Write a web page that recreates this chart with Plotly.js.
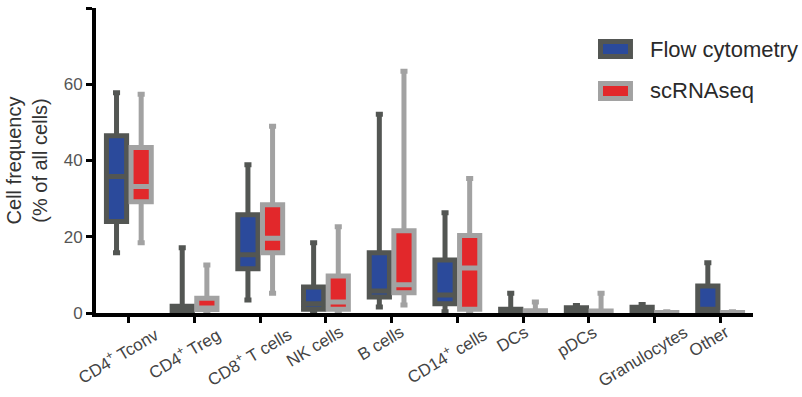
<!DOCTYPE html>
<html><head><meta charset="utf-8">
<script src="https://cdn.plot.ly/plotly-3.0.1.min.js"></script>
<style>html,body{margin:0;padding:0;background:#fff}#chart{width:802px;height:397px}</style>
</head><body><div id="chart"></div>
<script>
const categories = ["CD4<sup>+</sup> Tconv","CD4<sup>+</sup> Treg","CD8<sup>+</sup> T cells","NK cells","B cells","CD14<sup>+</sup> cells","DCs","pDCs","Granulocytes","Other"];

const flowMax = [57.8, 17.1, 38.9, 18.4, 52.1, 26.3, 5.2, 2.0, 2.2, 13.2];
const flowQ3  = [46.5, 1.8, 25.8, 6.8, 15.8, 13.9, 1.0, 1.4, 1.5, 7.1];
const flowMed = [35.8, 0.8, 15.3, 2.4, 5.8, 4.7, 0.4, 0.6, 0.7, 1.0];
const flowQ1  = [24.0, 0.3, 11.6, 1.0, 4.2, 2.4, 0.1, 0.2, 0.3, 0.2];
const flowMin = [15.8, 0, 3.4, 0.2, 1.6, 0.3, 0, 0, 0, 0];

const scMax = [57.4, 12.6, 49.0, 22.6, 63.4, 35.3, 2.9, 5.2, 0.3, 0.3];
const scQ3  = [43.4, 3.9, 28.4, 9.7, 21.6, 20.3, 0.6, 0.5, 0.1, 0.1];
const scMed = [33.2, 1.3, 19.6, 2.9, 7.4, 11.8, 0.2, 0.2, 0.05, 0.05];
const scQ1  = [29.2, 0.9, 15.8, 1.0, 5.3, 1.0, 0.1, 0.1, 0, 0];
const scMin = [18.4, 0, 5.2, 0.3, 2.1, 0.2, 0, 0, 0, 0];

const yTicks = [0, 20, 40, 60, 80];
const yTickText = ["0", "20", "40", "60", ""];

const seriesNames = ["Flow cytometry", "scRNAseq"];
const fillColors = ['#2b4a9b', '#e2282b'];
const lineColors = ['#535653', '#a2a2a2'];

const flow = {
  type: 'box', name: seriesNames[0],
  x: categories, q1: flowQ1, median: flowMed, q3: flowQ3,
  lowerfence: flowMin, upperfence: flowMax,
  fillcolor: fillColors[0], line: {color: lineColors[0], width: 5},
  whiskerwidth: 0.35, boxpoints: false, hoverinfo: 'skip'
};
const sc = {
  type: 'box', name: seriesNames[1],
  x: categories, q1: scQ1, median: scMed, q3: scQ3,
  lowerfence: scMin, upperfence: scMax,
  fillcolor: fillColors[1], line: {color: lineColors[1], width: 5},
  whiskerwidth: 0.35, boxpoints: false, hoverinfo: 'skip'
};

const FONT = 'Liberation Sans, Arial, sans-serif';

// category labels under the axis, centred below each tick and rotated
const catLabels = categories.map(c => ({
  x: c, xref: 'x', y: 0, yref: 'paper',
  text: c, showarrow: false, textangle: -31,
  xanchor: 'center', yanchor: 'top', xshift: -11, yshift: -7,
  font: {family: FONT, size: 17, color: '#444'}
}));

// legend (symbols as rectangles, labels as text)
const legendShapes = [
  {type: 'rect', xref: 'paper', yref: 'paper', x0: 0.7679, x1: 0.8135, y0: 0.8410, y1: 0.8902,
   fillcolor: fillColors[0], line: {color: lineColors[0], width: 5}},
  {type: 'rect', xref: 'paper', yref: 'paper', x0: 0.7679, x1: 0.8135, y0: 0.7033, y1: 0.7525,
   fillcolor: fillColors[1], line: {color: lineColors[1], width: 5}}
];
const legendTexts = [
  {x: 0.8402, y: 0.8623, xref: 'paper', yref: 'paper', text: seriesNames[0], showarrow: false,
   xanchor: 'left', yanchor: 'middle', font: {family: FONT, size: 22, color: '#2a2a2a'}},
  {x: 0.8402, y: 0.7279, xref: 'paper', yref: 'paper', text: seriesNames[1], showarrow: false,
   xanchor: 'left', yanchor: 'middle', font: {family: FONT, size: 22, color: '#2a2a2a'}}
];

const layout = {
  width: 802, height: 397,
  margin: {l: 96, r: 49, t: 8, b: 84},
  paper_bgcolor: '#fff', plot_bgcolor: '#fff',
  boxmode: 'group', boxgap: 0.25, boxgroupgap: 0.18,
  showlegend: false,
  font: {family: FONT, color: '#444'},
  shapes: legendShapes,
  annotations: catLabels.concat(legendTexts),
  xaxis: {
    type: 'category', range: [-0.5, 9.5],
    showline: true, linecolor: '#000', linewidth: 4,
    ticks: 'outside', ticklen: 6, tickwidth: 3, tickcolor: '#000',
    showticklabels: false,
    showgrid: false, zeroline: false, fixedrange: true
  },
  yaxis: {
    range: [0, 80], tickvals: yTicks, ticktext: yTickText,
    showline: true, linecolor: '#000', linewidth: 4,
    ticks: 'outside', ticklen: 6, tickwidth: 3, tickcolor: '#000',
    tickfont: {size: 17, color: '#555'},
    showgrid: false, zeroline: false, fixedrange: true,
    title: {text: 'Cell frequency<br>(% of all cells)', font: {size: 20, color: '#333'}, standoff: 12}
  }
};

Plotly.newPlot('chart', [flow, sc], layout, {displayModeBar: false, staticPlot: true});
</script>
</body></html>
